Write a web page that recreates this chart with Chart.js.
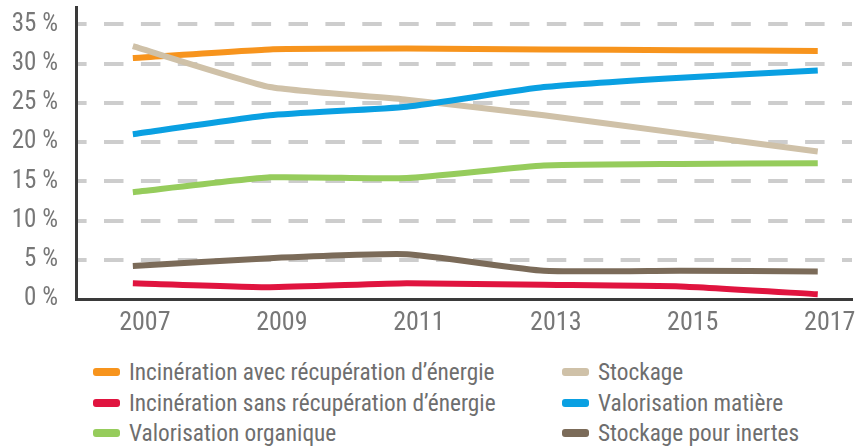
<!DOCTYPE html>
<html><head><meta charset="utf-8">
<script src="https://cdn.jsdelivr.net/npm/chart.js@4"></script>
<style>
html,body{margin:0;padding:0;background:#fff;width:860px;height:448px;overflow:hidden;}
#wrap{position:absolute;left:0;top:0;width:860px;height:340px;}
#legend{position:absolute;left:93px;top:360px;display:grid;grid-template-columns:469px 260px;row-gap:6.5px;
font-family:'Roboto Condensed',sans-serif;font-size:23.3px;color:#6e6e6e;}
.item{display:flex;align-items:center;height:24px;white-space:nowrap;}
.box{width:27px;height:8px;border-radius:3px;margin-right:9px;}
</style></head>
<body>
<div id="wrap"><canvas id="c" width="860" height="340"></canvas></div>
<div id="legend"></div>
<script>
const years = [2007, 2009, 2011, 2013, 2015, 2017];
const yTicks = [0, 5, 10, 15, 20, 25, 30, 35];
const seriesNames = [
  "Incinération avec récupération d’énergie",
  "Stockage",
  "Incinération sans récupération d’énergie",
  "Valorisation matière",
  "Valorisation organique",
  "Stockage pour inertes"
];
const incAvec   = [30.7, 31.8, 31.9, 31.8, 31.7, 31.6];
const stockage  = [32.2, 27.0, 25.4, 23.4, 21.1, 18.8];
const incSans   = [2.0, 1.5, 2.0, 1.8, 1.6, 0.6];
const valMat    = [21.0, 23.4, 24.5, 27.0, 28.2, 29.1];
const valOrg    = [13.6, 15.5, 15.4, 17.0, 17.2, 17.3];
const inertes   = [4.2, 5.2, 5.7, 3.6, 3.6, 3.5];
const seriesData = [incAvec, stockage, incSans, valMat, valOrg, inertes];
const colors = ["#F7941D", "#CFC1A8", "#E0143F", "#0AA0E2", "#96CC5C", "#7B6B59"];
const drawOrder = [2, 1, 4, 0, 5, 3];

const FONT = "'Roboto Condensed', sans-serif";

const datasets = seriesNames.map((n, i) => ({
  label: n,
  data: years.map((y, j) => ({x: y, y: seriesData[i][j]})),
  borderColor: colors[i],
  backgroundColor: colors[i],
  borderWidth: 6,
  pointRadius: 0,
  tension: 0.15,
  borderJoinStyle: 'round',
  order: drawOrder[i],
  fill: false
}));

new Chart(document.getElementById('c'), {
  type: 'line',
  data: {datasets},
  options: {
    responsive: false,
    animation: false,
    layout: {padding: {left: 0, right: 8, top: 7, bottom: 0}},
    plugins: {legend: {display: false}, tooltip: {enabled: false}},
    scales: {
      x: {
        type: 'linear',
        min: 2006.17, max: 2017.5,
        afterBuildTicks: s => { s.ticks = years.map(v => ({value: v})); },
        afterFit: s => { s.height = 41; s.paddingLeft = 0; s.paddingRight = 0; },
        grid: {display: false, drawTicks: false},
        border: {display: true, color: '#3a3a3a', width: 3},
        ticks: {font: {family: FONT, size: 26}, color: '#777', padding: 9, labelOffset: 12,
                callback: v => String(v), maxRotation: 0, autoSkip: false}
      },
      y: {
        min: 0, max: 37.2,
        afterBuildTicks: s => { s.ticks = yTicks.map(v => ({value: v})); },
        afterFit: s => { s.width = 76; s.paddingTop = 0; s.paddingBottom = 0; },
        grid: {color: c => c.tick && c.tick.value === 0 ? 'rgba(0,0,0,0)' : '#cdcdcd',
               lineWidth: 4, drawTicks: false},
        border: {display: true, color: '#3a3a3a', width: 3, dash: [19.5, 17.4], dashOffset: 10.9},
        ticks: {font: {family: FONT, size: 25}, color: '#777', padding: 18,
                callback: v => v + ' %'}
      }
    }
  }
});

const lg = document.getElementById('legend');
seriesNames.forEach((n, i) => {
  const d = document.createElement('div');
  d.className = 'item';
  const b = document.createElement('span');
  b.className = 'box';
  b.style.background = colors[i];
  const t = document.createElement('span');
  t.textContent = n;
  d.appendChild(b); d.appendChild(t);
  lg.appendChild(d);
});
</script>
</body></html>
